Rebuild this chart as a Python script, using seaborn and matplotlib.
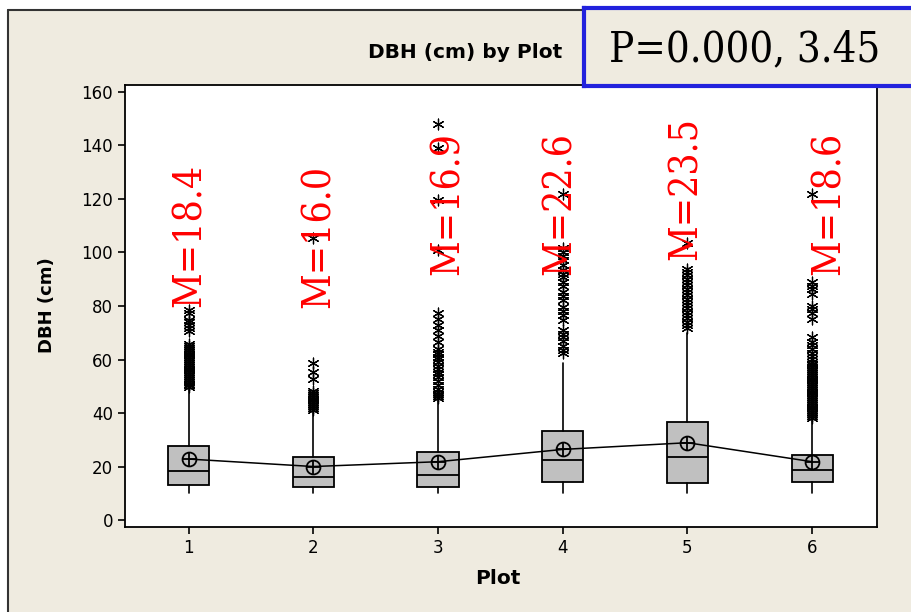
import matplotlib
matplotlib.use("Agg")
from matplotlib import pyplot as plt
from matplotlib.patches import Rectangle
from matplotlib.lines import Line2D
import seaborn as sns
import pandas as pd

plots = [1, 2, 3, 4, 5, 6]
plot_labels = ["1", "2", "3", "4", "5", "6"]
q1 = [13.2, 12.5, 12.5, 14.3, 13.7, 14.3]
medians = [18.4, 16.0, 16.9, 22.6, 23.5, 18.6]
q3 = [27.8, 23.7, 25.5, 33.3, 36.7, 24.3]
whislo = [10.2, 10.2, 10.2, 10.2, 10.2, 10.2]
whishi = [49.3, 40.5, 44.9, 58.6, 69.8, 37.4]
means = [22.8, 20.0, 21.8, 26.4, 28.9, 21.8]
median_text = ["M=18.4", "M=16.0", "M=16.9", "M=22.6", "M=23.5", "M=18.6"]

out1 = [49.6, 50.3, 51.0, 51.7, 52.4, 53.1, 53.8, 54.5, 55.2, 55.9, 56.6, 57.3,
        58.0, 58.7, 59.4, 60.1, 60.8, 61.5, 62.2, 62.9, 63.6, 64.3, 65.0, 65.8,
        70.5, 71.8, 72.8, 73.9, 74.8, 77.2, 78.5]
out2 = [41.2, 41.9, 42.6, 43.3, 44.0, 44.7, 45.4, 46.1, 46.8, 47.5, 48.3,
        52.7, 55.2, 58.8, 105.6]
out3 = [45.5, 46.3, 47.1, 47.9, 48.8, 50.5, 52.0, 53.4, 54.6, 55.5, 56.4,
        57.6, 58.9, 60.2, 61.0, 61.9, 62.8, 64.1, 66.5, 68.8, 70.9, 73.0,
        75.2, 77.4, 101.0, 119.6, 139.2, 148.2]
out4 = [62.4, 63.6, 65.0, 66.8, 68.3, 69.6, 71.0, 74.8, 76.5, 78.2, 79.6,
        82.3, 83.9, 85.2, 87.3, 89.1, 90.7, 92.1, 93.6, 95.4, 97.1, 98.8,
        100.1, 101.8, 121.8]
out5 = [71.8, 73.0, 74.2, 75.5, 76.7, 77.9, 79.1, 80.4, 81.6, 82.8, 84.0,
        85.3, 86.5, 87.7, 88.9, 90.2, 91.4, 92.6, 94.0, 103.5]
out6 = [38.2, 38.9, 39.6, 40.3, 41.0, 41.7, 42.4, 43.1, 43.8, 44.5, 45.2,
        45.9, 46.6, 47.3, 48.0, 48.7, 49.4, 50.1, 50.8, 51.5, 52.2, 52.9,
        53.6, 54.3, 55.0, 55.7, 56.4, 57.1, 57.8, 58.5, 59.2, 60.1, 61.2,
        62.5, 63.9, 65.3, 66.7, 68.3, 75.0, 77.4, 78.8, 80.1, 84.6, 86.2,
        87.4, 89.0, 122.0]
outliers = [out1, out2, out3, out4, out5, out6]

# positions of the red median labels (x offset, bottom y)
label_dx = [0.01, 0.05, 0.08, -0.02, -0.01, 0.14]
label_y = [79.6, 79.3, 91.6, 91.6, 97.2, 91.6]

sns.set_style("white")
plt.rcParams["font.family"] = ["DejaVu Sans"]
plt.rcParams["text.color"] = "black"
plt.rcParams["xtick.color"] = "black"
plt.rcParams["ytick.color"] = "black"

beige = "#EFEBE0"
fig = plt.figure(figsize=(9.11, 6.12), dpi=100, facecolor="white")
W, H = 911, 612

def fx(px):
    return px / W

def fy(py):
    return 1 - py / H

# beige panel with dark top/left border
fig.patches.append(Rectangle((fx(8), 0), 1, fy(10), transform=fig.transFigure,
                             facecolor=beige, edgecolor="none", zorder=-2))
fig.lines.append(Line2D([fx(8), 1], [fy(10), fy(10)], transform=fig.transFigure,
                        color="#333333", lw=1.5, zorder=-1))
fig.lines.append(Line2D([fx(8), fx(8)], [0, fy(10)], transform=fig.transFigure,
                        color="#333333", lw=1.5, zorder=-1))

ax = fig.add_axes([fx(125), fy(527), fx(877) - fx(125), fy(85) - fy(527)])
ax.set_zorder(1)
ax.set_facecolor("white")

stats = []
for i in range(len(plots)):
    stats.append(dict(q1=q1[i], med=medians[i], q3=q3[i], whislo=whislo[i],
                      whishi=whishi[i], fliers=[], label=plot_labels[i]))
ax.bxp(stats, positions=plots, widths=0.33, showfliers=False, showcaps=False,
       patch_artist=True,
       boxprops=dict(facecolor="#C0C0C0", edgecolor="black", linewidth=1.3),
       medianprops=dict(color="black", linewidth=1.3),
       whiskerprops=dict(color="black", linewidth=1.2))

out_df = pd.DataFrame({
    "Plot": [p for p, vals in zip(plots, outliers) for _ in vals],
    "DBH": [v for vals in outliers for v in vals],
})
sns.scatterplot(data=out_df, x="Plot", y="DBH", marker=(6, 2, 0), s=60,
                color="black", linewidth=0.9, ax=ax, zorder=3)

mean_df = pd.DataFrame({"Plot": plots, "Mean": means})
sns.lineplot(data=mean_df, x="Plot", y="Mean", color="black", lw=1.1, ax=ax,
             zorder=4)
ax.plot(plots, means, "o", ms=10, mfc="none", mec="black", mew=1.3, zorder=5)
ax.plot(plots, means, "+", ms=10, mec="black", mew=1.3, zorder=5)

for p, dx, y, t in zip(plots, label_dx, label_y, median_text):
    ax.text(p + dx, y, t, rotation=90, ha="center", va="bottom", color="red",
            fontsize=28, family="DejaVu Serif", fontstretch="condensed", zorder=6)

ax.set_xlim(0.49, 6.52)
ax.set_ylim(-2.6, 162.6)
ax.set_xticks(plots)
ax.set_xticklabels(plot_labels)
ax.set_yticks([0, 20, 40, 60, 80, 100, 120, 140, 160])
ax.tick_params(axis="both", direction="out", length=5, width=1.2, color="black",
               labelsize=12, left=True, bottom=True)
for s in ax.spines.values():
    s.set_color("black")
    s.set_linewidth(1.3)
ax.set_xlabel("")
ax.set_ylabel("")

fig.text(fx(47), fy(305), "DBH (cm)", rotation=90, ha="center", va="center",
         fontsize=13, fontweight="bold")
fig.text(fx(498), fy(578), "Plot", ha="center", va="center", fontsize=14.5,
         fontweight="bold")
fig.text(fx(465), fy(53), "DBH (cm) by Plot", ha="center", va="center",
         fontsize=14.5, fontweight="bold")

# p-value box, drawn above the axes
pax = fig.add_axes([fx(584), fy(86), fx(340), fy(8) - fy(86)])
pax.set_zorder(3)
pax.set_facecolor(beige)
pax.set_xticks([])
pax.set_yticks([])
for s in pax.spines.values():
    s.set_color("#2222DD")
    s.set_linewidth(3)
fig.text(fx(745), fy(49), "P=0.000, 3.45", ha="center", va="center",
         fontsize=30, family="DejaVu Serif", fontstretch="condensed", zorder=4)

fig.savefig("out.png", dpi=100, facecolor="white")
